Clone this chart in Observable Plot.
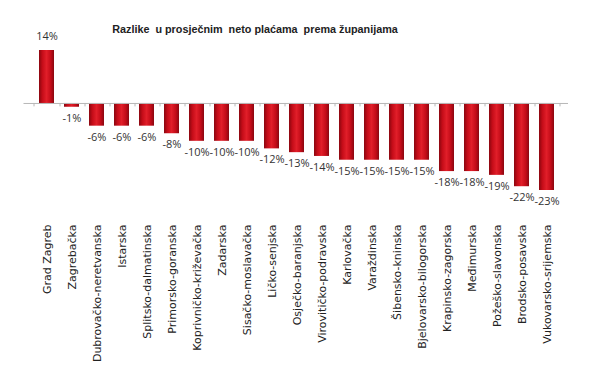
<!DOCTYPE html>
<html>
<head>
<meta charset="utf-8">
<script src="https://cdn.jsdelivr.net/npm/d3@7"></script>
<script src="https://cdn.jsdelivr.net/npm/@observablehq/plot@0.6"></script>
<style>
  body { margin: 0; background: #fff; position: relative; }
  #title { position: absolute; left: 0; top: 0; width: 510px; height: 40px; box-sizing: border-box; padding-top: 22px; text-align: center;
    font: bold 10.8px "Liberation Sans", sans-serif; color: #222; white-space: pre; line-height: 14px; }
</style>
</head>
<body>
<div id="chart"></div>
<div id="title">Razlike  u prosječnim  neto plaćama  prema županijama</div>
<script>
const counties = ["Grad Zagreb","Zagrebačka","Dubrovačko-neretvanska","Istarska","Splitsko-dalmatinska","Primorsko-goranska","Koprivničko-križevačka","Zadarska","Sisačko-moslavačka","Ličko-senjska","Osječko-baranjska","Virovitičko-podravska","Karlovačka","Varaždinska","Šibensko-kninska","Bjelovarsko-bilogorska","Krapinsko-zagorska","Međimurska","Požeško-slavonska","Brodsko-posavska","Vukovarsko-srijemska"];
const diffs = [14,-1,-6,-6,-6,-8,-10,-10,-10,-12,-13,-14,-15,-15,-15,-15,-18,-18,-19,-22,-23];

const data = counties.map((c, i) => ({county: c, value: diffs[i]}));

const chart = Plot.plot({
  width: 600,
  height: 390,
  marginTop: 50,
  marginBottom: 200,
  marginLeft: 23.5,
  marginRight: 32,
  style: {fontFamily: "DejaVu Sans", fontSize: "11px", color: "#222", background: "transparent"},
  x: {domain: counties, paddingInner: 0.42, paddingOuter: 0.21, axis: null},
  y: {domain: [-23, 14], axis: null},
  marks: [
    Plot.barY(data, {x: "county", y: "value", fill: "url(#barGrad)"}),
    Plot.ruleY([0], {stroke: "#b8b8b8", strokeWidth: 1}),
    Plot.ruleX(data, {x: "county", dx: 13, y1: 0, y2: -0.9, stroke: "#b8b8b8"}),
    Plot.ruleX([counties[0]], {x: d => d, dx: -13, y1: 0, y2: -0.9, stroke: "#b8b8b8"}),
    Plot.text(data, {x: "county", y: "value", text: d => `${d.value}%`,
      fontFamily: "Open Sans", fontSize: 11, fill: "#333",
      filter: d => d.value >= 0, dy: -14}),
    Plot.text(data, {x: "county", y: "value", text: d => `${d.value}%`,
      fontFamily: "Open Sans", fontSize: 11, fill: "#333",
      filter: d => d.value < 0, dy: 11}),
    Plot.axisX({anchor: "bottom", label: null, tickSize: 0, tickRotate: -90, tickPadding: 34, fontSize: 11, fill: "#222"})
  ]
});

const svg = d3.select(chart);
const defs = svg.insert("defs", ":first-child");
const g = defs.append("linearGradient").attr("id", "barGrad").attr("x1", 0).attr("x2", 1).attr("y1", 0).attr("y2", 0);
[[0, "#8a0710"], [0.22, "#c40c18"], [0.5, "#e11e29"], [0.78, "#c40c18"], [1, "#8a0710"]].forEach(([o, c]) =>
  g.append("stop").attr("offset", o).attr("stop-color", c));

document.getElementById("chart").appendChild(chart);
</script>
</body>
</html>
